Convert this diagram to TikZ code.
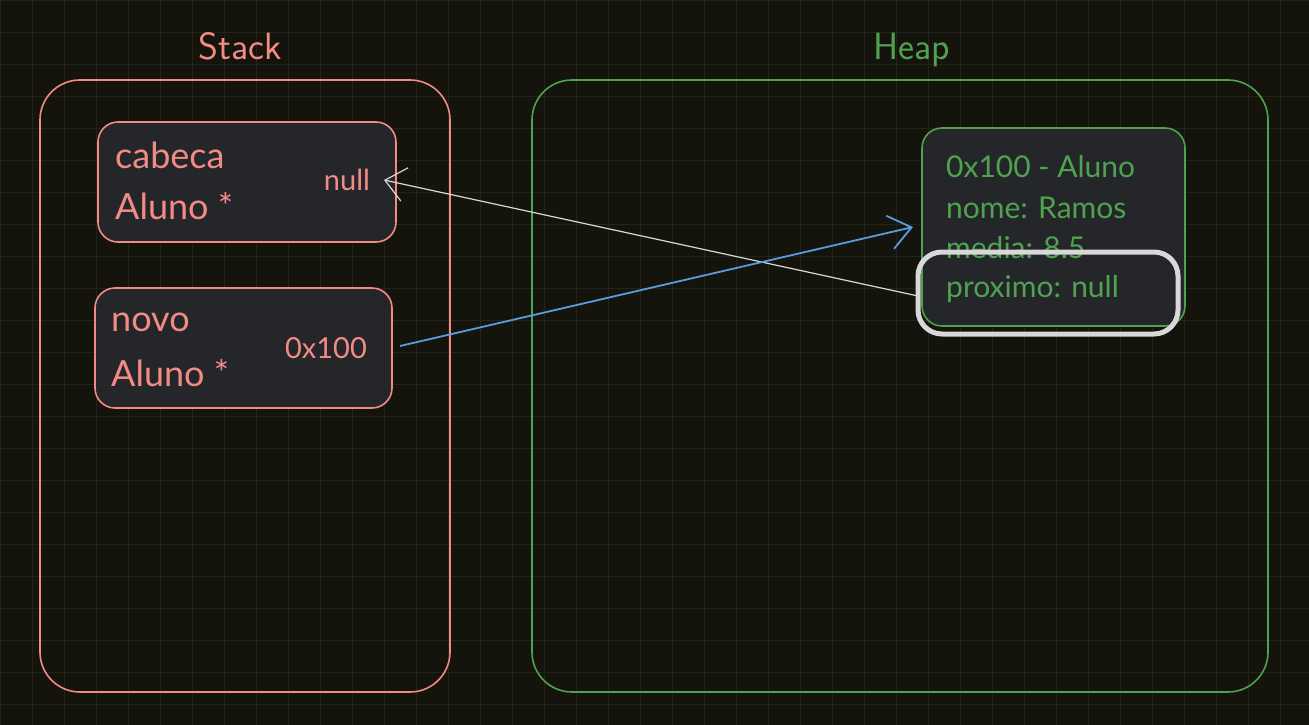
\documentclass[tikz,border=0pt]{standalone}
\usepackage{fontspec}
\setmainfont{Lato}
\usetikzlibrary{arrows.meta}
\definecolor{bg}{HTML}{15140C}
\definecolor{gridc}{HTML}{232319}
\definecolor{pinkc}{HTML}{F28B86}
\definecolor{greenc}{HTML}{4FA24F}
\definecolor{boxfill}{HTML}{25262A}
\definecolor{bluec}{HTML}{5A9BE0}
\definecolor{greyc}{HTML}{D8D8D8}
\begin{document}
\begin{tikzpicture}[x=1pt,y=-1pt,
  area/.style={line width=1.6pt, rounded corners=40pt},
  cell/.style={line width=1.6pt, rounded corners=20pt, fill=boxfill},
  txt/.style={anchor=west, inner sep=0pt, font=\fontsize{36}{40}\selectfont},
  htxt/.style={anchor=west, inner sep=0pt, font=\fontsize{30}{34}\selectfont},
  small/.style={anchor=center, font=\fontsize{29}{32}\selectfont},
  title/.style={font=\fontsize{38}{42}\selectfont\sffamily}]
\fill[bg] (0,0) rectangle (1309,725);
\useasboundingbox (0,0) rectangle (1309,725);
\draw[gridc, step=32pt, line width=0.4pt] (0,0) grid (1309,725);
% areas
\node[title, text=pinkc] (stackt) at (240,46) {Stack};
\node[title, text=greenc] (heapt) at (912,50) {Heap};
\draw[area, draw=pinkc] (40,80) rectangle (450,692);
\draw[area, draw=greenc] (532,80) rectangle (1268,692);
% stack cells
\draw[cell, draw=pinkc] (98,122) rectangle (396,242);
\node[txt, text=pinkc] (c1) at (115,155) {cabeca};
\node[txt, text=pinkc] (c2) at (115,206) {Aluno *};
\node[small, text=pinkc] (cnull) at (347,180) {null};
\draw[cell, draw=pinkc] (95,288) rectangle (392,408);
\node[txt, text=pinkc] (n1) at (111,322) {novo};
\node[txt, text=pinkc] (n2) at (111,373) {Aluno *};
\node[small, text=pinkc] (naddr) at (326,348) {0x100};
% heap cell
\draw[cell, draw=greenc] (922,128) rectangle (1185,326);
\node[htxt, text=greenc] (h1) at (946,167) {0x100 - Aluno};
\node[htxt, text=greenc] (h2) at (946,208) {nome: Ramos};
\node[htxt, text=greenc] (h3) at (946,248) {media: 8.5};
\node[htxt, text=greenc] (h4) at (946,289) {proximo: null};
\draw[greyc, line width=5pt, rounded corners=24pt] (918,252) rectangle (1178,334);
% arrows
\coordinate (ws) at (918,296);
\coordinate (we) at (384,180);
\draw[greyc, line width=1.2pt, -{Straight Barb[length=20pt,width=34pt]}] (ws) -- (we);
\coordinate (bs) at (400,346);
\coordinate (be) at (913,227);
\draw[bluec, line width=1.8pt, -{Straight Barb[length=22pt,width=34pt]}] (bs) -- (be);
\end{tikzpicture}
\end{document}
